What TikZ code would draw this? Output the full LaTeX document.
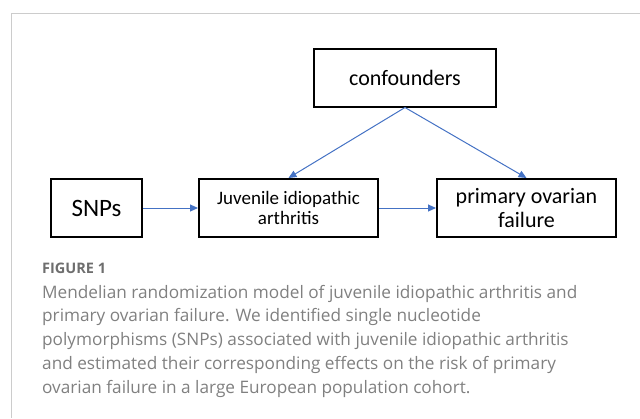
\documentclass[tikz,border=0pt]{standalone}
\usepackage{fontspec}
\setmainfont{Carlito}
\newfontfamily\captionfont{Open Sans}
\usepackage{tikz}
\usetikzlibrary{positioning}
\usetikzlibrary{calc}
\usetikzlibrary{arrows.meta}

\definecolor{linkblue}{RGB}{68,114,196}
\definecolor{framegray}{RGB}{204,204,204}
\definecolor{captiongray}{RGB}{128,128,128}
\definecolor{figgray}{RGB}{110,110,110}

\tikzset{
  factor/.style={rectangle, draw=black, line width=2pt, minimum height=58pt,
    align=center, inner sep=2pt},
  effect/.style={draw=linkblue, line width=1pt,
    -{Triangle[length=8pt,width=7pt]}}
}

\begin{document}
\begin{tikzpicture}[x=1pt, y=-1pt]
    \useasboundingbox (0,0) rectangle (640,418);
    \draw[framegray, line width=1pt] (640,13) -- (11.5,13) -- (11.5,418);

    \node[factor, minimum width=182pt, font=\fontsize{22pt}{24pt}\selectfont] (conf) at (405,77.5)
      {confounders};
    \node[factor, minimum width=91pt, font=\fontsize{25pt}{28pt}\selectfont] (snps) at (96.5,208)
      {SNPs};
    \node[factor, minimum width=179pt, right=55pt of snps, font=\fontsize{19pt}{20pt}\selectfont] (jia)
      {Juvenile idiopathic\\arthritis};
    \node[factor, minimum width=179pt, right=57pt of jia, font=\fontsize{22pt}{24pt}\selectfont] (pof)
      {primary ovarian\\failure};

    \draw[effect] (conf.south) -- (jia.north);
    \draw[effect] (conf.south) -- (pof.north);
    \draw[effect] (snps) -- (jia);
    \draw[effect] (jia) -- (pof);

    \node[anchor=base west, inner sep=0pt, text=figgray,
      font=\captionfont\bfseries\fontsize{14.5pt}{16pt}\selectfont] (fig) at (42,273)
      {FIGURE 1};
    \node[anchor=base west, inner sep=0pt, align=left, text=captiongray,
      font=\captionfont\fontsize{17.2pt}{23.7pt}\selectfont] (caption) at (42,393)
      {Mendelian randomization model of juvenile idiopathic arthritis and\\
       primary ovarian failure. We identified single nucleotide\\
       polymorphisms (SNPs) associated with juvenile idiopathic arthritis\\
       and estimated their corresponding effects on the risk of primary\\
       ovarian failure in a large European population cohort.};
\end{tikzpicture}
\end{document}
